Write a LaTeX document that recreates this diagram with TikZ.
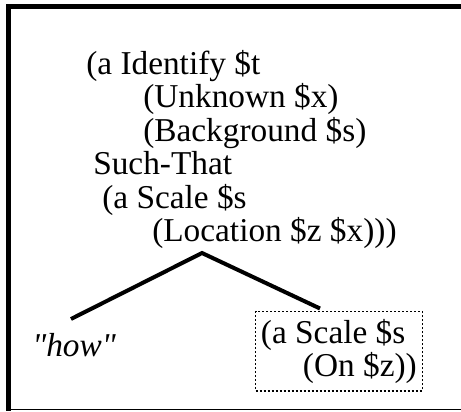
\documentclass[tikz,border=0pt]{standalone}
\usepackage{fontspec}
\setmainfont{Liberation Serif}
\usetikzlibrary{positioning}
\tikzset{
    termo/.style={
        align=left,
        inner sep=0pt,
        font=\fontsize{25}{25.1}\selectfont
    },
    caixaTermo/.style={termo, draw, line width=0.9pt, dash pattern=on 1.6pt off 1.4pt,
        inner xsep=4pt, inner ysep=5.5pt},
    ramo/.style={line width=3pt, line cap=butt},
    moldura/.style={line width=3.9pt}
}

\begin{document}
\begin{tikzpicture}[x=0.75pt, y=-0.75pt]
        \useasboundingbox (0,0) rectangle (461,411);
        % moldura
        \draw[moldura] (461,6.7) -- (8.5,6.7) -- (8.5,410.5);
        \draw[line width=0.8pt] (8.5,409.5) -- (461,409.5);

        \node[termo, anchor=north west] (identify) at (86,50)
            {(a Identify \$t\\
             \hspace*{42.75pt}(Unknown \$x)\\
             \hspace*{42.75pt}(Background \$s)\\
             \hspace*{5.25pt}Such-That\\
             \hspace*{12pt}(a Scale \$s\\
             \hspace*{49.5pt}(Location \$z \$x)))};
        \coordinate (topo) at (202,253);
        \node[termo, anchor=base west, font=\fontsize{25}{25.1}\selectfont\itshape]
            (how) at (32,356) {\textquotedbl how\textquotedbl};
        \node[caixaTermo, anchor=north west] (scale) at (255,311)
            {(a Scale \$s\\
             \hspace*{31.5pt}(On \$z))};
        \coordinate (pontaHow) at (71,319);
        \coordinate (pontaScale) at (320,308.5);

        \draw[ramo] (pontaHow) -- (topo) -- (pontaScale);
    \end{tikzpicture}
\end{document}
